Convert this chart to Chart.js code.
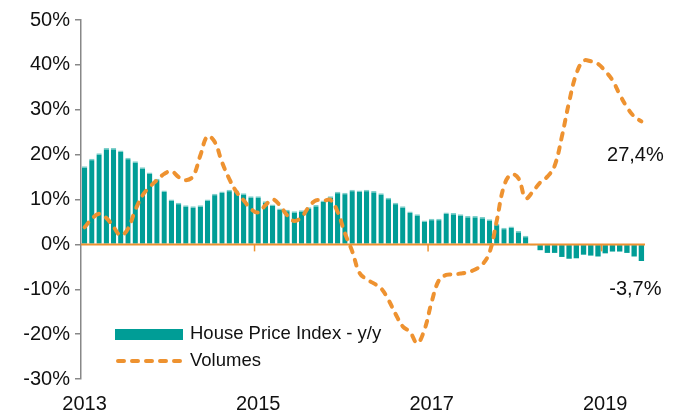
<!DOCTYPE html>
<html>
<head>
<meta charset="utf-8">
<script src="https://cdn.jsdelivr.net/npm/chart.js@4.4.1/dist/chart.umd.min.js"></script>
<style>
  html, body { margin: 0; padding: 0; background: #fff; }
  #wrap { width: 678px; height: 414px; }
</style>
</head>
<body>
<div id="wrap"><canvas id="myChart" width="678" height="414"></canvas></div>
<script>
// monthly categories, Jan 2013 - Jun 2019
var months = [
  '2013-01','2013-02','2013-03','2013-04','2013-05','2013-06','2013-07','2013-08','2013-09','2013-10','2013-11','2013-12',
  '2014-01','2014-02','2014-03','2014-04','2014-05','2014-06','2014-07','2014-08','2014-09','2014-10','2014-11','2014-12',
  '2015-01','2015-02','2015-03','2015-04','2015-05','2015-06','2015-07','2015-08','2015-09','2015-10','2015-11','2015-12',
  '2016-01','2016-02','2016-03','2016-04','2016-05','2016-06','2016-07','2016-08','2016-09','2016-10','2016-11','2016-12',
  '2017-01','2017-02','2017-03','2017-04','2017-05','2017-06','2017-07','2017-08','2017-09','2017-10','2017-11','2017-12',
  '2018-01','2018-02','2018-03','2018-04','2018-05','2018-06','2018-07','2018-08','2018-09','2018-10','2018-11','2018-12',
  '2019-01','2019-02','2019-03','2019-04','2019-05','2019-06'
];
var yearLabels = ['2013', '2015', '2017', '2019'];

// House Price Index - y/y (%)
var hpi = [
  17.4, 19.1, 20.3, 21.5, 21.5, 20.9, 19.3, 18.5, 17.2, 16.0, 14.6, 12.0,
  10.0, 9.3, 8.7, 8.5, 8.7, 10.0, 11.3, 11.8, 12.2, 12.0, 11.4, 10.7,
  10.7, 9.6, 8.9, 8.0, 7.7, 7.4, 7.6, 8.3, 8.8, 9.8, 10.7, 11.7,
  11.5, 12.2, 12.0, 12.2, 11.9, 11.4, 10.4, 9.3, 8.5, 7.3, 6.7, 5.3,
  5.7, 5.7, 7.1, 7.0, 6.7, 6.3, 6.3, 6.1, 5.6, 4.6, 3.7, 4.0,
  3.0, 1.9, -0.2, -1.3, -1.9, -1.9, -2.8, -3.2, -3.1, -2.3, -2.5, -2.7,
  -2.0, -1.6, -1.6, -1.9, -2.7, -3.7
];

// Volumes (%)
var volumes = [
  3.8, 5.7, 6.8, 5.9, 3.9, 2.0, 3.5, 7.6, 10.9, 12.8, 14.3, 15.7,
  16.3, 15.0, 14.3, 15.2, 19.8, 24.1, 22.8, 18.3, 14.6, 11.7, 9.8, 7.9,
  7.1, 8.7, 10.0, 8.7, 6.5, 5.2, 6.1, 8.3, 9.8, 9.7, 9.9, 7.2,
  2.5, -1.5, -6.3, -7.8, -8.7, -9.8, -12.3, -15.5, -18.3, -19.5, -22.0, -19.0,
  -12.8, -8.0, -6.8, -6.7, -6.5, -6.2, -5.6, -4.5, -1.8, 5.3, 13.0, 15.6,
  14.7, 10.3, 11.8, 13.8, 15.1, 17.5, 24.0, 31.7, 38.0, 40.9, 40.8, 40.2,
  38.6, 36.6, 33.4, 30.6, 28.5, 27.4
];

var tealColor = '#009d96';
var tealLight = '#7fd0cb';
var orangeColor = '#ee9230';
var axisGrey = '#888888';
var fontName = "'Liberation Sans', Arial, sans-serif";

function fmtPct(v) {
  return (v.toFixed(1) + '%').replace('.', ',');
}

// zero line, year ticks, end labels and legend
var extrasPlugin = {
  id: 'extras',
  afterDatasetDraw: function(chart, args) {
    if (args.index !== 1) return;
    var ctx = chart.ctx;
    var x = chart.scales.x, y = chart.scales.y;
    var y0 = y.getPixelForValue(0);
    var half = (x.getPixelForValue(1) - x.getPixelForValue(0)) / 2;
    ctx.save();
    ctx.strokeStyle = orangeColor;
    ctx.lineWidth = 2;
    ctx.beginPath();
    ctx.moveTo(chart.chartArea.left, y0);
    ctx.lineTo(chart.chartArea.right, y0);
    ctx.stroke();
    ctx.lineWidth = 1.5;
    for (var i = 24; i < months.length; i += 24) {
      var xp = x.getPixelForValue(i) - half;
      ctx.beginPath();
      ctx.moveTo(xp, y0);
      ctx.lineTo(xp, y0 + 7);
      ctx.stroke();
    }
    ctx.restore();
  },
  afterDraw: function(chart) {
    var ctx = chart.ctx;
    var x = chart.scales.x, y = chart.scales.y;
    var last = months.length - 1;
    var xl = x.getPixelForValue(last) - 6;
    ctx.save();
    ctx.fillStyle = '#111';
    ctx.font = '20px ' + fontName;
    ctx.textAlign = 'center';
    ctx.textBaseline = 'middle';
    ctx.fillText(fmtPct(volumes[last]), xl, y.getPixelForValue(volumes[last]) + 34);
    ctx.fillText(fmtPct(hpi[last]), xl, y.getPixelForValue(hpi[last]) + 29);

    // legend
    var ds = chart.data.datasets;
    ctx.font = '18.5px ' + fontName;
    ctx.textAlign = 'left';
    ctx.fillStyle = tealColor;
    ctx.fillRect(115, 329, 68, 11);
    ctx.fillStyle = '#111';
    ctx.fillText(ds[1].label, 190, 334);
    ctx.strokeStyle = ds[0].borderColor;
    ctx.lineWidth = 4;
    ctx.lineCap = 'round';
    ctx.setLineDash([6, 8]);
    ctx.beginPath();
    ctx.moveTo(118, 361);
    ctx.lineTo(182, 361);
    ctx.stroke();
    ctx.setLineDash([]);
    ctx.fillText(ds[0].label, 190, 361);
    ctx.restore();
  }
};

var ctx = document.getElementById('myChart');
var myChart = new Chart(ctx, {
  type: 'bar',
  data: {
    labels: months,
    datasets: [{
      type: 'line',
      label: 'Volumes',
      data: volumes,
      borderColor: orangeColor,
      backgroundColor: orangeColor,
      borderWidth: 4,
      borderDash: [6, 8],
      borderCapStyle: 'round',
      tension: 0.4,
      pointRadius: 0,
      order: 0
    }, {
      label: 'House Price Index - y/y',
      data: hpi,
      backgroundColor: tealColor,
      borderColor: tealLight,
      borderSkipped: false,
      // light top edge on the positive bars
      borderWidth: function(c) {
        var v = c.raw;
        return { top: v > 0 ? 1.5 : 0, bottom: 0, left: 0, right: 0 };
      },
      categoryPercentage: 1,
      barPercentage: 0.74,
      order: 1
    }]
  },
  options: {
    responsive: false,
    animation: false,
    layout: { padding: { top: 20, right: 33, left: 0, bottom: 0 } },
    plugins: {
      legend: { display: false },
      tooltip: { enabled: false }
    },
    scales: {
      x: {
        offset: true,
        grid: { display: false, drawTicks: false },
        border: { display: false },
        ticks: {
          autoSkip: false,
          maxRotation: 0,
          padding: 13,
          color: '#111',
          font: { family: fontName, size: 20 },
          callback: function(val, idx) {
            var lab = months[idx];
            if (lab.slice(5) === '01' && yearLabels.indexOf(lab.slice(0, 4)) >= 0) return lab.slice(0, 4);
            return '';
          }
        },
        afterFit: function(scale) { scale.height = 35; }
      },
      y: {
        min: -30,
        max: 50,
        grid: { drawOnChartArea: false, drawTicks: true, tickLength: 6, color: axisGrey, lineWidth: 1.5 },
        border: { display: true, color: axisGrey, width: 1.5 },
        ticks: {
          stepSize: 10,
          padding: 5,
          color: '#111',
          font: { family: fontName, size: 20 },
          callback: function(v) { return v + '%'; }
        },
        afterFit: function(scale) { scale.width = 81; }
      }
    }
  },
  plugins: [extrasPlugin]
});
</script>
</body>
</html>
